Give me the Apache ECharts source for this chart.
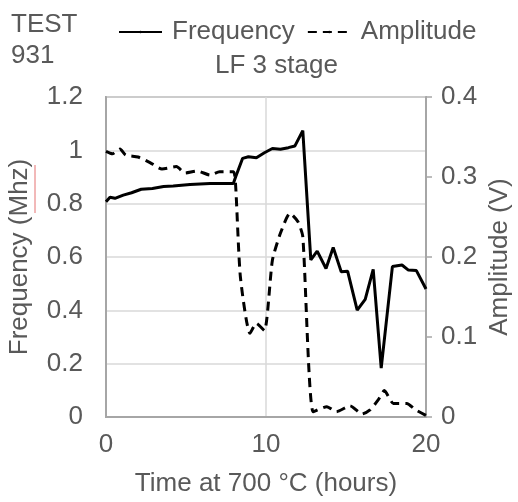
<!DOCTYPE html>
<html>
<head>
<meta charset="utf-8">
<script src="https://cdn.jsdelivr.net/npm/echarts@6/dist/echarts.min.js"></script>
<style>html,body{margin:0;padding:0;background:#fff}#c{width:518px;height:502px}</style>
</head>
<body>
<div id="c"></div>
<script>
// frequency (MHz) vs time (h)
var freqT=[0,0.25,0.56,1.08,1.6,2.2,2.9,3.6,4.2,5.25,6.5,7.96,8.1,8.54,8.9,9.4,9.9,10.4,10.9,11.4,11.8,12.3,12.8,13.2,13.75,14.2,14.7,15.1,15.7,16.2,16.7,17.2,17.9,18.5,18.9,19.4,20];
var freqV=[0.807,0.824,0.82,0.832,0.841,0.854,0.857,0.864,0.866,0.872,0.876,0.876,0.9,0.97,0.976,0.972,0.991,1.007,1.004,1.01,1.016,1.074,0.589,0.622,0.557,0.636,0.545,0.547,0.401,0.441,0.554,0.183,0.564,0.57,0.551,0.549,0.48];
// amplitude (V) vs time (h)
var ampT=[0,0.4,0.875,1.23,2,2.75,3.5,4.4,4.94,5.7,6.5,7.1,7.96,8.1,8.4,9,9.4,9.9,10.4,10.9,11.5,12,12.3,12.95,13.8,14.4,15.25,16,16.5,17,17.4,17.96,18.8,19.3,20];
var ampV=[0.332,0.329,0.335,0.3275,0.325,0.318,0.31,0.313,0.305,0.3075,0.3025,0.3066,0.3066,0.29,0.175,0.1046,0.117,0.108,0.196,0.2296,0.2546,0.244,0.2254,0.0066,0.0129,0.0066,0.014,0.0038,0.0088,0.021,0.033,0.017,0.017,0.0096,0.002];

function pairs(t,v){return t.map(function(x,i){return [x,v[i]];});}

var TXT='#595959', AX='#a6a6a6', GR='#d9d9d9', FONT='Liberation Sans, Arial, sans-serif', FS=26;
var chart=echarts.init(document.getElementById('c'));

// red spell-check squiggle under "Mhz"
var sq=[]; for (var y=165;y<=213;y+=2) sq.push([(y/2)%2?35:33,y]);

chart.setOption({
  animation:false,
  textStyle:{fontFamily:FONT},
  title:[
    {text:'TEST\n931',left:6,top:4,textStyle:{fontSize:FS,fontWeight:'normal',color:TXT,lineHeight:31,fontFamily:FONT}},
    {text:'LF 3 stage',left:210,top:48,textStyle:{fontSize:FS,fontWeight:'normal',color:TXT,fontFamily:FONT}}
  ],
  legend:{top:14,left:113,itemWidth:43,itemHeight:3,itemGap:12,
    textStyle:{fontSize:FS,color:TXT,fontFamily:FONT,padding:[0,0,0,5]},
    data:['Frequency','Amplitude']},
  grid:{left:106,right:92,top:97,bottom:85,outerBoundsMode:'none'},
  xAxis:{type:'value',min:0,max:20,interval:10,
    name:'Time at 700 °C (hours)',nameLocation:'middle',nameGap:54,nameMoveOverlap:false,
    nameTextStyle:{fontSize:FS,color:TXT},
    axisLine:{lineStyle:{color:AX,width:2}},axisTick:{show:false},
    axisLabel:{fontSize:FS,color:TXT,margin:15},
    splitLine:{show:true,lineStyle:{color:GR,width:1.5}}},
  yAxis:[
    {type:'value',min:0,max:1.2,interval:0.2,
     name:'Frequency (Mhz)',nameLocation:'middle',nameGap:73,nameMoveOverlap:false,
     nameTextStyle:{fontSize:FS,color:TXT},
     axisLine:{show:true,lineStyle:{color:AX,width:2}},axisTick:{show:false},
     axisLabel:{fontSize:FS,color:TXT,margin:23},
     splitLine:{show:true,lineStyle:{color:GR,width:1.5}}},
    {type:'value',min:0,max:0.4,interval:0.1,position:'right',
     name:'Amplitude (V)',nameLocation:'middle',nameGap:61,nameMoveOverlap:false,
     nameTextStyle:{fontSize:FS,color:TXT},
     axisLine:{show:true,lineStyle:{color:AX,width:2}},
     axisTick:{show:true,length:6,lineStyle:{color:AX,width:1.5}},
     axisLabel:{fontSize:FS,color:TXT,margin:15},
     splitLine:{show:false}}
  ],
  series:[
    {name:'Frequency',type:'line',yAxisIndex:0,showSymbol:false,symbol:'none',
     data:pairs(freqT,freqV),lineStyle:{color:'#000',width:3},itemStyle:{color:'#000'}},
    {name:'Amplitude',type:'line',yAxisIndex:1,showSymbol:false,symbol:'none',smooth:0.2,
     data:pairs(ampT,ampV),lineStyle:{color:'#000',width:3,type:[9,6]},itemStyle:{color:'#000'}}
  ],
  graphic:[
    {type:'rect',shape:{x:106,y:97,width:320,height:320},style:{fill:'none',stroke:AX,lineWidth:2},silent:true,z:-1},
    {type:'polyline',shape:{points:sq},style:{fill:'none',stroke:'#e57373',lineWidth:1},silent:true}
  ]
});
</script>
</body>
</html>
